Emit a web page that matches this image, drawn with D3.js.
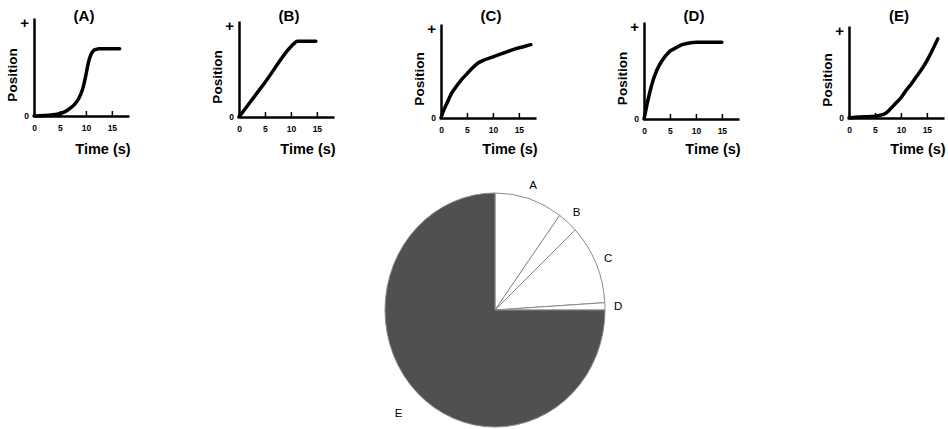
<!DOCTYPE html>
<html>
<head>
<meta charset="utf-8">
<script src="https://cdn.jsdelivr.net/npm/d3@7"></script>
<style>
  body { margin:0; background:#fff; }
  svg { display:block; font-family:"Liberation Sans", Arial, sans-serif; }
  .ttl { font-size:15px; font-weight:bold; }
  .lbl { font-size:14.5px; font-weight:bold; }
  .tick text { font-size:8.5px; font-weight:bold; font-family:"Liberation Sans", Arial, sans-serif; }
  .plbl { font-size:11.5px; }
</style>
</head>
<body>
<svg id="chart" width="948" height="429"></svg>
<script>
// datos de cada grafica (tiempo en s, posicion relativa 0..1)
var panelNames = ['A','B','C','D','E'];
var tA = [0,2,4,5,6,7,8,9,9.5,10,10.5,11,11.5,12,12.5,13,16.5];
var pA = [0,0.005,0.015,0.025,0.045,0.08,0.13,0.22,0.3,0.42,0.55,0.63,0.67,0.68,0.685,0.685,0.685];
var tB = [0,5,10.7,11.2,14.8];
var pB = [0,0.36,0.77,0.79,0.79];
var tC = [0,0.5,1,2,3,4,5,6,7,8,10,12,14,16,17.3];
var pC = [0,0.08,0.14,0.26,0.34,0.41,0.47,0.53,0.58,0.61,0.65,0.69,0.73,0.76,0.78];
var tD = [0,0.5,1,2,3,4,5,6,7,8,9,10,12,15];
var pD = [0,0.13,0.25,0.44,0.56,0.64,0.7,0.73,0.76,0.775,0.785,0.79,0.79,0.79];
var tE = [0,2,4,5,6,7,8,9,10,11,12,13,14,15,16,17.1];
var pE = [0,0.01,0.015,0.02,0.03,0.05,0.1,0.16,0.22,0.3,0.37,0.45,0.53,0.62,0.73,0.86];
var timeTicks = [0,5,10,15];

// porcentajes del pastel
var pieNames = ['A','B','C','D','E'];
var pieVals = [10,3,11,1,75];

var series = [[tA,pA],[tB,pB],[tC,pC],[tD,pD],[tE,pE]];

/* origen de cada grafica pequeña */
var layout = [
  {x0:34,  y0:116, top:18},
  {x0:239, y0:117, top:21},
  {x0:441, y0:118, top:24},
  {x0:644, y0:119, top:22},
  {x0:849, y0:118, top:26}
];

var svg = d3.select('#chart');

panelNames.forEach(function(name,i){
  var L = layout[i];
  var x = d3.scaleLinear().domain([0,18.3]).range([L.x0, L.x0+95]);
  var y = d3.scaleLinear().domain([0,1]).range([L.y0, L.top]);
  var g = svg.append('g');

  var xAx = d3.axisBottom(x).tickValues(timeTicks).tickSizeInner(-5).tickSizeOuter(0).tickPadding(9);
  g.append('g').attr('transform','translate(0,'+L.y0+')').call(xAx)
    .call(s=>s.select('.domain').attr('stroke-width',2.5))
    .call(s=>s.selectAll('.tick line').attr('stroke-width',1.5));

  var yAx = d3.axisLeft(y).tickValues([0,0.95]).tickSize(0).tickPadding(5)
    .tickFormat(d=>d?'+':'0');
  g.append('g').attr('transform','translate('+L.x0+',0)').call(yAx)
    .call(s=>s.select('.domain').attr('stroke-width',2.5))
    .call(s=>s.selectAll('.tick text').style('font-size',d=>d?'15px':'8.5px'));

  var pts = series[i][0].map((t,k)=>[t, series[i][1][k]]);
  var line = d3.line().x(d=>x(d[0])).y(d=>y(d[1])).curve(d3.curveMonotoneX);
  g.append('path').datum(pts)
    .attr('d',line).attr('fill','none').attr('stroke','#000')
    .attr('stroke-width',3.5).attr('stroke-linecap','round');

  g.append('text').classed('ttl',true).attr('text-anchor','middle')
    .attr('x',L.x0+50).attr('y',21).text('('+name+')');
  g.append('text').classed('lbl',true).attr('text-anchor','middle')
    .attr('x',L.x0+69).attr('y',154).text('Time (s)');
  g.append('text').classed('lbl',true).attr('text-anchor','middle')
    .attr('transform','translate('+(L.x0-17)+','+((L.y0+L.top)/2+8)+') rotate(-90)')
    .style('font-size','13.5px')
    .text('Position');
});

/* pastel */
var R = 110, sy = 117/110;
var pie = d3.pie().sort(null).value(d=>d);
var arcs = pie(pieVals);
var arc = d3.arc().innerRadius(0).outerRadius(R);
var pg = svg.append('g').attr('transform','translate(495,310) scale(1,'+sy+')');
pg.selectAll('path').data(arcs).enter().append('path')
  .attr('d',arc)
  .attr('fill',(d,i)=>i==4?'#505050':'#fff')
  .attr('stroke','#8a8a8a')
  .attr('stroke-width',1)
  .attr('vector-effect','non-scaling-stroke');

svg.selectAll('.plbl').data(arcs).enter().append('text')
  .classed('plbl',true)
  .attr('text-anchor','middle').attr('dy','0.35em')
  .attr('x',(d,i)=>{var k=i==4?1.24:1.12; return 495+d3.arc().innerRadius(R*k).outerRadius(R*k).centroid(d)[0];})
  .attr('y',(d,i)=>{var k=i==4?1.24:1.12; return 310+sy*d3.arc().innerRadius(R*k).outerRadius(R*k).centroid(d)[1];})
  .text((d,i)=>pieNames[i]);
</script>
</body>
</html>
